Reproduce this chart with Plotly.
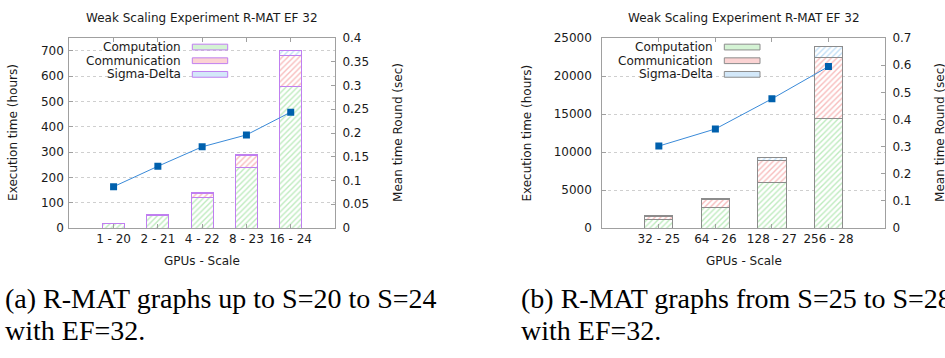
import plotly.graph_objects as go

# ---------------- data ----------------
left_categories = ["1 - 20", "2 - 21", "4 - 22", "8 - 23", "16 - 24"]
left_computation = [16, 50, 119, 240, 557]
left_communication = [1.2, 1.5, 17, 45, 124]
left_sigma_delta = [0.8, 1.2, 3, 6, 18]
left_mean_round = [0.087, 0.130, 0.171, 0.196, 0.244]

right_categories = ["32 - 25", "64 - 26", "128 - 27", "256 - 28"]
right_computation = [1100, 2750, 6030, 14380]
right_communication = [450, 960, 2910, 8100]
right_sigma_delta = [60, 170, 340, 1390]
right_mean_round = [0.302, 0.365, 0.476, 0.595]

series_names = ["Computation", "Communication", "Sigma-Delta"]
title_text = "Weak Scaling Experiment R-MAT EF 32"
xlabel = "GPUs - Scale"
ylabel = "Execution time (hours)"
y2label = "Mean time Round (sec)"
caption_a = ["(a) R-MAT graphs up to S=20 to S=24", "with EF=32."]
caption_b = ["(b) R-MAT graphs from S=25 to S=28", "with EF=32."]

# ---------------- styling ----------------
W, H = 945, 358
FONT = "DejaVu Sans"
AXC = "#a0a0a0"
fg = {"Computation": "#7ed87e", "Communication": "#f07a7a", "Sigma-Delta": "#86c0ee"}
swatch = {"Computation": "#d4f3d4", "Communication": "#fbd3d3", "Sigma-Delta": "#d3e8f9"}


def fx(px):
    return px / W


def fy(py):
    return 1 - py / H


fig = go.Figure()


def add_panel(cats, comp, comm, sig, rnd, xa, ya, ya2, outline):
    for name, vals in zip(series_names, [comp, comm, sig]):
        fig.add_trace(go.Bar(
            x=cats, y=vals, name=name, width=0.5, showlegend=False,
            xaxis=xa, yaxis=ya,
            marker=dict(color="white",
                        line=dict(color=outline, width=1),
                        pattern=dict(shape="/", fgcolor=fg[name], size=4,
                                     solidity=0.35, fillmode="overlay")),
        ))
    fig.add_trace(go.Scatter(
        x=cats, y=rnd, mode="lines+markers", showlegend=False,
        xaxis=xa, yaxis=ya2,
        line=dict(color="#3a8ad8", width=1),
        marker=dict(symbol="square", size=7, color="#0060ad"),
    ))


add_panel(left_categories, left_computation, left_communication, left_sigma_delta,
          left_mean_round, "x", "y", "y2", "#c07ff0")
add_panel(right_categories, right_computation, right_communication, right_sigma_delta,
          right_mean_round, "x2", "y3", "y4", "#8c8c8c")

tickfont = dict(family=FONT, size=12, color="#1a1a1a")

left_dom = [fx(69.3), fx(335)]
right_dom = [fx(602.3), fx(885)]
ydom = [fy(230), fy(32.3)]


def xaxis_cfg(dom, n, anchor):
    return dict(domain=dom, anchor=anchor, type="category", range=[-1, n],
                showline=True, linecolor=AXC, linewidth=1, mirror="ticks",
                ticks="inside", ticklen=4, tickcolor=AXC, showgrid=False,
                zeroline=False, tickfont=tickfont, fixedrange=True)


def yaxis_cfg(rng, dtick, anchor, standoff, fmt=None):
    d = dict(domain=ydom, anchor=anchor, range=rng, dtick=dtick, tick0=0,
             showline=True, linecolor=AXC, linewidth=1, ticks="inside",
             ticklen=4, tickcolor=AXC, showgrid=True, gridcolor="#cfcfcf",
             griddash="dot", gridwidth=1, zeroline=False, tickfont=tickfont,
             ticklabelstandoff=standoff)
    if fmt:
        d["tickformat"] = fmt
    return d


def y2_cfg(rng, dtick, overlay, anchor):
    return dict(overlaying=overlay, anchor=anchor, side="right", range=rng,
                dtick=dtick, tick0=0, showline=True, linecolor=AXC, linewidth=1,
                ticks="inside", ticklen=4, tickcolor=AXC, showgrid=False,
                zeroline=False, tickfont=tickfont, ticklabelstandoff=4)


fig.update_layout(
    width=W, height=H, margin=dict(l=0, r=0, t=0, b=0),
    paper_bgcolor="white", plot_bgcolor="white", barmode="stack",
    xaxis=xaxis_cfg(left_dom, len(left_categories), "y"),
    yaxis=yaxis_cfg([0, 750], 100, "x", 2),
    yaxis2=y2_cfg([0, 0.4], 0.05, "y", "x"),
    xaxis2=xaxis_cfg(right_dom, len(right_categories), "y3"),
    yaxis3=yaxis_cfg([0, 25000], 5000, "x2", 7, fmt="d"),
    yaxis4=y2_cfg([0, 0.7], 0.1, "y3", "x2"),
)

ann = []
shapes = []
lbl = dict(family=FONT, size=12, color="#1a1a1a")


def text(x, y, s, font, xanchor="center", yanchor="middle", angle=0):
    ann.append(dict(x=fx(x), y=fy(y), xref="paper", yref="paper", text=s,
                    showarrow=False, font=font, xanchor=xanchor,
                    yanchor=yanchor, textangle=angle))


for cx, ylx, y2x, legx, boxx in [(202, 13, 398, 182.7, (192.3, 227.7)),
                                 (743.7, 526.7, 940, 715, (724.3, 760))]:
    text(cx, 11, title_text, lbl)
    text(cx, 264, xlabel, lbl)
    text(ylx, 131, ylabel, lbl, angle=-90)
    text(y2x, 131, y2label, lbl, angle=-90)
    for i, name in enumerate(series_names):
        yy = 41.7 + i * 14.2
        text(legx, yy, name, lbl, xanchor="right")
        shapes.append(dict(type="rect", xref="paper", yref="paper",
                           x0=fx(boxx[0]), x1=fx(boxx[1]),
                           y0=fy(yy + 3), y1=fy(yy - 3),
                           fillcolor=swatch[name],
                           line=dict(color="#c07ff0" if cx < 400 else "#8c8c8c", width=1)))

capfont = dict(family="Liberation Serif", size=28, color="black")
for x0, lines in [(3, caption_a), (519, caption_b)]:
    text(x0, 303, lines[0], capfont, xanchor="left")
    text(x0, 337, lines[1], capfont, xanchor="left")

fig.update_layout(annotations=ann, shapes=shapes)
fig.write_html("out.html", config={"displayModeBar": False},
               post_script="document.body.style.margin='0';document.body.style.overflow='hidden';")
